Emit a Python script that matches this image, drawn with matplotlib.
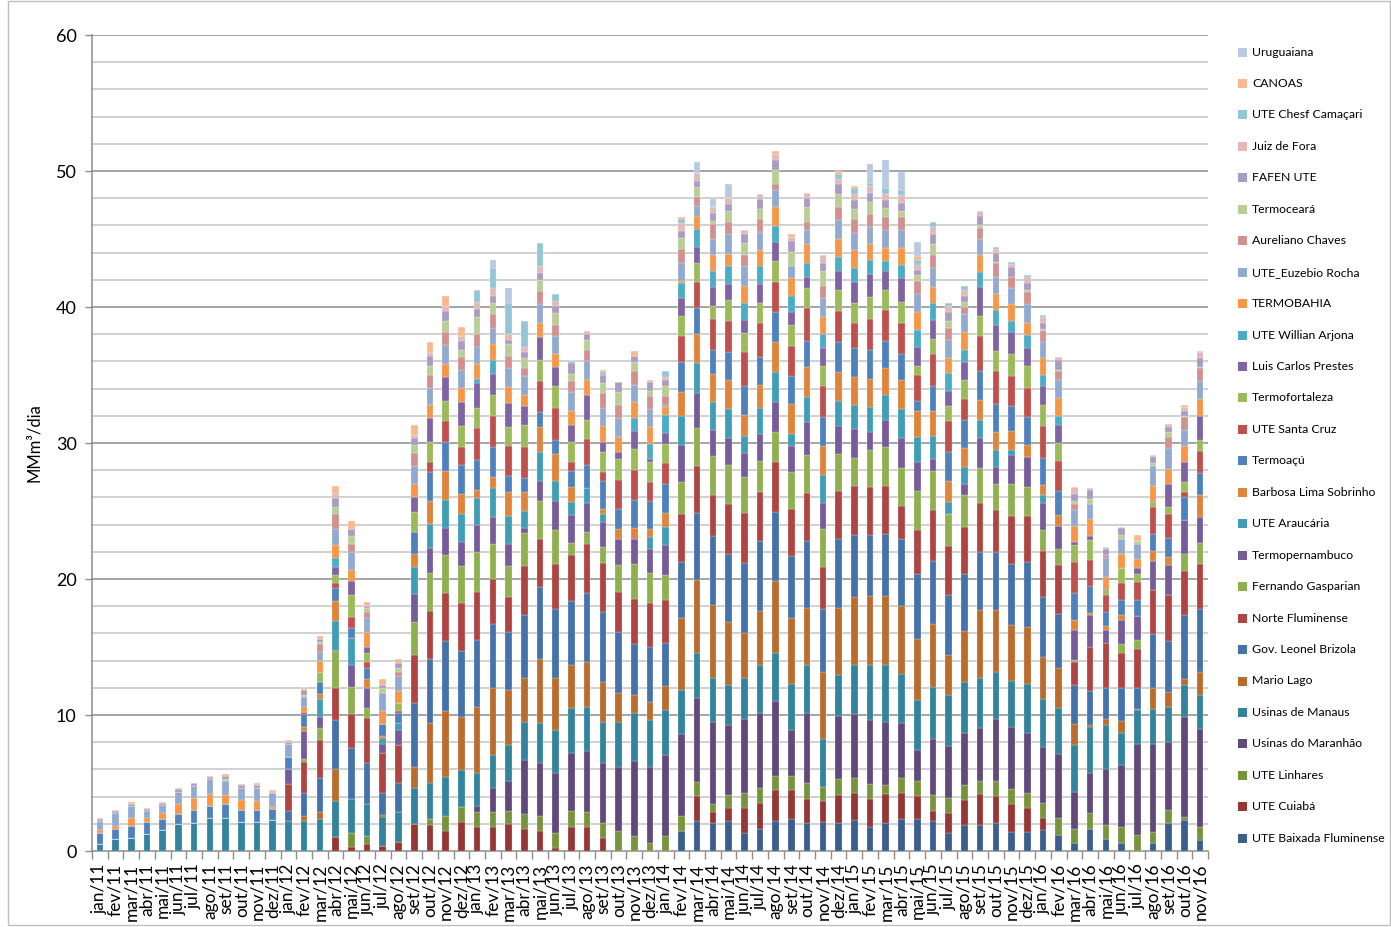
import matplotlib
matplotlib.use("Agg")
import matplotlib.pyplot as plt
import numpy as np
from matplotlib.patches import Rectangle
from matplotlib.ticker import FixedLocator

plt.rcParams['font.family'] = ['Lato', 'DejaVu Sans']

months = ['jan/11','fev/11','mar/11','abr/11','mai/11','jun/11','jul/11','ago/11','set/11','out/11','nov/11','dez/11',
          'jan/12','fev/12','mar/12','abr/12','mai/12','jun/12','jul/12','ago/12','set/12','out/12','nov/12','dez/12',
          'jan/13','fev/13','mar/13','abr/13','mai/13','jun/13','jul/13','ago/13','set/13','out/13','nov/13','dez/13',
          'jan/14','fev/14','mar/14','abr/14','mai/14','jun/14','jul/14','ago/14','set/14','out/14','nov/14','dez/14',
          'jan/15','fev/15','mar/15','abr/15','mai/15','jun/15','jul/15','ago/15','set/15','out/15','nov/15','dez/15',
          'jan/16','fev/16','mar/16','abr/16','mai/16','jun/16','jul/16','ago/16','set/16','out/16','nov/16']

# stacking order: bottom -> top
baixada = [0,0,0,0,0,0,0,0,0,0,0,0,
           0,0,0,0,0,0,0,0,0,0,0,0,
           0,0,0,0,0,0,0,0,0,0,0,0,
           0,1.49,2.2,2.03,2.23,1.3,1.59,2.23,2.33,2.03,2.15,2.03,
           2.28,1.79,2.03,2.33,2.33,2.23,1.35,1.91,1.91,2.03,1.42,1.42,
           1.54,1.17,0.56,1.59,0.86,0.56,0,0.56,2.03,2.28,0.81]
cuiaba = [0,0,0,0,0,0,0,0,0,0,0,0,
          0,0,0,1.05,0.32,0.49,0.37,0.66,2.0,1.9,1.49,2.15,
          1.79,1.79,1.96,1.59,1.49,0.2,1.79,1.79,0.98,0,0,0,
          0,0,1.81,0.86,0.9,1.88,1.96,2.25,2.15,1.79,1.52,2.08,
          2.0,2.03,2.13,1.95,1.71,0.71,1.42,1.83,2.25,2.01,2.01,1.71,
          0.86,0,0,0,0,0,0,0,0,0,0]
linhares = [0,0,0,0,0,0,0,0,0,0,0,0,
            0,0,0,0,0.98,0.61,0,0,0,0.42,1.08,1.05,
            1.1,1.1,1.0,1.13,1.08,1.1,1.17,1.1,1.05,1.49,1.1,0.56,
            1.1,1.08,1.1,0.56,0.98,1.05,1.05,1.03,1.05,1.2,1.05,1.15,
            1.06,1.1,0.69,1.06,1.1,1.17,1.1,1.11,0.98,1.1,1.1,1.1,
            1.1,1.23,1.03,1.18,1.05,1.23,1.17,0.86,0.98,0.24,0.98]
maranhao = [0,0,0,0,0,0,0,0,0,0,0,0,
            0,0,0,0,0,0,0,0,0,0,0,0,
            0.42,1.71,2.2,3.96,3.87,4.45,4.21,4.48,4.41,4.7,5.51,5.63,
            5.95,6.0,6.14,6.05,5.19,5.51,5.56,5.53,3.35,5.14,0,4.68,
            4.77,4.7,4.65,4.08,2.32,4.11,3.86,3.84,3.94,4.53,4.6,4.48,
            4.16,4.72,2.77,2.98,4.09,4.52,6.73,6.48,5.02,7.34,7.21]
manaus = [0.49,0.9,0.98,1.27,1.52,1.96,2.08,2.45,2.45,2.15,2.15,2.25,
          2.2,2.2,2.37,2.62,2.5,2.37,2.13,2.2,2.64,2.69,2.89,2.79,
          2.4,2.45,2.67,2.81,2.98,3.13,3.35,3.23,3.06,3.31,3.55,3.43,
          3.3,3.3,3.28,3.23,2.94,2.99,3.55,3.52,3.43,3.5,3.55,2.98,
          3.55,4.09,4.21,3.62,3.63,3.85,3.72,3.74,3.67,3.5,3.38,3.6,
          3.48,3.4,3.42,3.38,3.3,2.38,2.45,2.57,2.57,2.33,2.45]
mario_lago = [0,0,0,0,0,0,0,0,0,0,0,0,
              0,0.37,0.51,2.33,0,0,0.15,0,1.52,4.4,4.82,3.87,
              4.9,4.94,3.99,3.26,4.73,3.87,3.14,3.3,2.93,2.15,1.29,1.34,
              1.76,5.29,5.39,5.38,4.6,3.32,3.91,5.26,4.85,4.21,4.9,4.95,
              5.01,5.04,5.04,4.95,4.52,4.65,2.94,3.75,4.94,4.57,4.08,4.16,
              3.13,2.94,1.54,0.12,0.37,0.85,0.1,1.55,1.1,0.49,1.72]
brizola = [0,0,0,0,0,0,0,0,0,0,0,0,
           0.73,1.66,2.5,3.6,3.74,3.0,1.59,2.15,4.7,4.72,5.14,4.82,
           4.94,4.72,4.28,4.63,5.26,5.07,4.7,5.07,5.14,4.45,3.8,4.04,
           3.19,4.08,4.92,5.04,5.01,5.14,5.14,5.14,4.5,4.91,4.6,5.04,
           4.6,4.5,4.57,4.92,4.73,4.6,4.45,4.21,4.29,4.24,4.53,4.77,
           4.4,3.99,2.87,2.52,2.35,2.48,1.57,3.96,3.72,4.65,4.65]
norte_flu = [0,0,0,0,0,0,0,0,0,0,0,0,
             2.03,2.3,2.77,2.4,2.55,3.3,2.99,2.81,3.55,3.5,3.55,3.55,
             3.5,3.3,2.57,3.55,3.55,3.3,3.37,3.62,3.6,2.94,3.3,3.23,
             3.18,3.55,3.47,2.99,3.68,3.65,3.62,3.63,3.5,3.55,3.11,3.55,
             3.6,3.5,3.55,2.49,3.28,3.77,3.55,3.47,3.6,3.06,3.5,3.38,
             3.38,3.55,1.71,3.23,3.28,2.54,2.86,3.23,3.38,3.23,3.3]
gasparian = [0,0,0,0,0,0,0,0,0,0,0,0,
             0,0.25,0.86,2.7,1.96,0.73,0,0,2.45,2.8,2.76,2.7,
             2.94,2.57,2.26,2.47,2.76,2.45,0.91,0.86,1.17,1.96,2.57,2.23,
             1.78,2.33,2.82,2.93,2.88,2.64,2.33,2.2,2.69,2.82,2.81,2.74,
             2.03,2.74,2.87,2.77,2.84,2.83,2.4,2.28,2.59,1.95,2.37,2.18,
             1.52,1.22,0.12,0,0,0.69,0.66,0,0,1.29,1.52]
termopernambuco = [0,0,0,0,0,0,0,0,0,0,0,0,
                   1.08,2.03,0.86,0.1,1.66,1.47,0.61,1.05,2.03,1.83,2.03,1.78,
                   2.0,2.01,1.66,0.37,1.45,2.2,2.03,2.12,1.84,1.96,1.84,1.76,
                   2.26,2.76,2.57,1.89,1.96,1.77,1.96,2.21,1.91,2.37,1.89,2.03,
                   2.16,1.35,1.96,2.2,2.13,0.91,0,0.85,2.18,1.28,2.16,2.15,
                   2.03,1.67,2.25,2.38,0.97,1.71,1.71,2.08,2.2,2.5,1.91]
araucaria = [0,0,0,0,0,0,0,0,0,0,0,0,
             0,0,1.32,2.13,1.96,0,0.49,0.54,1.96,1.79,2.06,2.08,
             1.96,2.1,2.03,1.22,2.15,1.47,0.98,1.13,0.61,0,0,0.86,
             1.29,2.13,2.15,2.03,2.13,1.29,1.9,2.2,0.91,1.87,2.1,1.88,
             1.73,1.83,1.83,2.13,1.83,1.71,0.86,1.28,1.37,1.22,0.34,0,
             0.54,0,0,0,0,0,0,0,0,0,0]
barbosa = [0,0,0,0,0,0,0,0,0,0,0,0,
           0,0.32,0.39,1.42,0,0.69,0.12,0,1.0,1.71,2.15,1.47,
           0.61,0.83,1.76,1.39,1.88,1.96,1.1,0,0.37,0.73,0.8,0.61,
           1.06,1.76,2.13,2.08,2.13,1.52,1.72,2.2,2.2,2.17,2.13,2.13,
           2.04,2.03,1.96,2.13,1.96,1.84,1.59,1.34,1.47,1.3,1.37,0.93,
           0.78,0.78,0.69,0.12,0.25,0.37,0,0.76,0.61,0,1.59]
termoacu = [0.81,0.73,0.86,0.88,0.86,0.73,0.93,0.86,1.03,0.86,0.86,0.86,
            0.9,0.95,0.83,0.98,0.73,0.83,0.9,0.73,1.6,2.08,2.13,2.13,
            2.21,2.16,1.18,1.05,1.06,1.02,1.22,1.71,2.08,1.47,2.06,2.08,
            2.08,2.16,1.95,1.79,2.03,2.15,2.0,2.25,2.03,1.91,2.08,2.16,
            2.15,2.14,2.03,1.91,0.73,1.83,2.08,2.08,2.13,2.08,1.89,2.06,
            1.98,1.83,2.01,1.98,1.05,1.15,1.18,1.27,1.42,1.67,1.64]
santa_cruz = [0,0,0,0,0,0,0,0,0,0,0,0,
              0,0.12,0,0.4,0.78,0.44,0,0.12,0,0.74,1.5,1.3,
              2.32,2.31,2.2,2.25,2.32,2.33,0.62,1.89,0.61,2.15,2.23,1.35,
              1.56,1.91,1.91,2.25,2.33,2.45,2.5,2.22,2.25,2.42,2.28,2.32,
              1.81,2.27,2.25,2.32,1.91,2.33,2.28,1.54,2.52,2.4,2.15,2.1,
              2.38,2.21,2.27,1.93,1.23,1.25,1.34,1.96,1.76,0.36,1.66]
termofortaleza = [0,0,0,0,0,0,0,0,0,0,0,0,
                  0,0,0.73,0.56,1.62,0.66,0,0.61,1.5,1.51,1.5,1.59,
                  1.49,1.55,1.44,1.64,1.52,1.66,1.51,1.42,1.52,1.52,1.51,1.47,
                  1.42,1.51,1.4,0.98,1.54,1.4,1.49,1.52,1.54,1.49,1.51,1.52,
                  1.54,1.64,1.47,1.52,0.66,1.1,1.15,1.4,1.51,1.52,1.64,1.64,
                  1.54,1.27,1.28,1.47,0.36,1.1,0.62,0.37,0.49,0.74,0.78]
luis_carlos = [0,0,0,0,0,0,0,0,0,0,0,0,
               0,0,0,0.62,1.02,0.44,0,0,1.05,1.72,1.73,1.71,
               1.84,1.57,1.72,1.37,1.71,1.4,1.23,1.81,0.73,0.54,1.3,0.24,
               0.78,1.28,1.15,1.39,1.15,0.98,1.4,1.42,0.96,0.84,1.3,1.42,
               1.52,1.66,1.42,1.72,1.4,1.4,1.1,1.3,2.13,1.9,1.59,1.3,
               1.35,1.37,0.19,0.25,0.13,0,0.44,0.12,1.71,1.47,1.79]
willian = [0,0,0,0,0,0,0,0,0,0,0,0,
           0,0,0,0.66,0,0,0,0,0,0,0,0,
           0.29,0.98,0,0,0,0,0,0,0,0,0.98,1.1,
           1.35,1.12,1.35,1.18,1.3,1.24,1.3,1.15,1.17,1.05,1.03,1.03,
           1.0,1.03,0.73,0.97,1.25,1.24,1.27,0.93,1.06,1.08,0.86,0.98,
           0.85,0.66,0,0,0,0,0,0,0,0,0]
termobahia = [0.22,0.2,0.56,0.24,0.44,0.78,0.86,0.9,0.61,0.73,0.66,0.15,
              0,0.39,0.81,0.93,0.86,1.1,0.98,0.9,1.0,0.97,0.97,1.05,
              1.1,1.17,1.17,0.83,0.98,0.93,1.05,1.1,1.18,1.05,1.15,1.23,
              0.61,0.17,0.93,1.17,0.95,1.28,1.22,1.42,1.28,1.34,1.22,1.29,
              1.32,1.22,0.98,1.3,1.32,1.2,1.13,1.27,1.29,1.17,1.22,0.9,
              1.23,1.3,1.18,1.29,0.85,1.03,0.61,1.1,1.11,1.22,1.22]
euzebio = [0.69,0.93,0.9,0.54,0.56,0.86,0.9,1.05,1.05,0.9,0.98,0.98,
           0.9,0.73,0.66,1.2,1.3,1.03,1.3,1.1,1.3,1.25,1.4,1.33,
           1.28,1.18,1.42,1.37,1.42,1.3,1.39,1.37,1.27,1.42,1.3,1.34,
           0.15,1.35,0.73,1.15,1.42,1.47,1.32,1.2,0.93,1.03,1.4,1.4,
           1.3,1.23,1.27,1.27,1.29,1.37,1.32,1.35,1.2,1.28,1.22,1.35,
           1.15,1.32,1.2,1.11,1.42,1.1,1.15,1.42,1.51,1.15,1.35]
aureliano = [0,0,0,0,0,0,0,0,0,0,0,0,
             0,0,0.64,1.07,0.61,0.39,0,0.32,1.0,0.98,0.93,0.92,
             0.93,1.03,0.91,0.66,0.98,0.85,0.81,0.86,1.1,0.95,0.98,0.98,
             0.66,0.98,0.66,1.1,0.93,0.8,0.98,0.49,0,0.64,0.93,0.98,
             0.98,0.93,0.98,0.98,0.98,0.98,0.88,0.53,0.81,0.98,0.79,0.86,
             0.85,0.64,0.44,0,0.17,0,0,0,0.81,0.93,0.93]
termoceara = [0,0,0,0,0,0,0,0,0.17,0,0,0,
              0,0.17,0.1,0.54,0.54,0.29,0.37,0.29,0.55,0.64,0.81,0.57,
              1.22,0.85,0.85,0.69,0.8,0.86,0.49,0.73,0.76,0.98,0.66,0.37,
              0.73,0.85,0.76,0.25,0.78,0.91,0.68,1.0,1.05,1.08,1.1,0.98,
              0.73,0.9,0.64,0.44,0.44,0.78,0.54,0.37,0.2,0.12,0,0.17,
              0.13,0.1,0.2,0.36,0,0.31,0.24,0.25,0.37,0.12,0.1]
fafen = [0.17,0.17,0.17,0.17,0.17,0.2,0.2,0.2,0.2,0.2,0.2,0.12,
         0.17,0.32,0.24,0.66,0.56,0.2,0.24,0.32,0.55,0.76,0.73,0.66,
         0.61,0.49,0.3,0.42,0.5,0.54,0.78,0.42,0.61,0.69,0.49,0.61,
         0.42,0.5,0.42,0.61,0.54,0.61,0.74,0.71,0.78,0.68,0.61,0.68,
         0.67,0.69,0.59,0.61,0.35,0.74,0.61,0.44,0.66,0.68,0.73,0.56,
         0.41,0.73,0.53,0.66,0.49,0.49,0,0.41,0.41,0.32,0.64]
juiz_de_fora = [0,0,0,0,0,0,0,0,0,0,0,0,
                0,0,0,0.32,0,0,0,0,0.2,0.24,0.42,0.36,
                0.49,0.61,0.44,0.37,0.5,0.32,0,0.24,0,0,0,0,
                0.2,0.61,0.61,0.42,0.44,0.29,0.42,0.45,0.3,0.37,0.56,0.37,
                0.44,0.49,0.49,0.57,0.36,0.54,0.49,0.42,0.36,0.25,0.2,0.42,
                0.44,0.19,0.49,0.15,0.13,0.1,0,0.15,0.2,0.29,0.41]
chesf = [0,0,0,0,0,0,0,0,0,0,0,0,
         0,0,0,0,0,0,0,0,0,0,0,0,
         0.91,1.47,2.25,1.96,1.7,0.53,0.2,0,0.17,0,0,0,
         0.44,0.24,0,0,0,0,0,0,0,0,0,0.36,
         0.44,0.24,0.44,0.34,0.37,0.39,0.24,0.32,0,0.19,0.17,0.14,
         0.2,0,0,0,0,0,0,0,0,0,0]
canoas = [0.07,0.1,0.12,0.06,0.07,0.12,0,0.07,0.12,0.12,0.12,0.1,
          0.12,0.2,0.2,0.54,0.54,0.29,0.44,0.32,0.7,0.74,0.73,0.62,
          0,0,0,0,0,0,0,0,0.18,0,0.36,0.17,
          0,0.17,0,0,0,0,0,0.24,0.2,0,0,0.25,
          0.17,0,0,0,0.32,0,0,0,0,0,0,0,
          0,0,0,0,0,0,0.37,0,0,0.2,0.12]
uruguaiana = [0,0,0,0,0,0,0,0,0,0,0,0,
              0,0,0,0,0,0,0,0,0,0,0,0,
              0,0.6,1.17,0,0,0,0,0,0,0,0,0,
              0,0,0.8,0.56,0.98,0,0,0,0,0,0,0,
              0,1.35,2.0,1.37,1.05,0,0,0,0,0,0,0,
              0,0,0,0,0,0,0,0,0,0,0]

series_names = ['UTE Baixada Fluminense', 'UTE Cuiabá', 'UTE Linhares', 'Usinas do Maranhão',
                'Usinas de Manaus', 'Mario Lago', 'Gov. Leonel Brizola', 'Norte Fluminense',
                'Fernando Gasparian', 'Termopernambuco', 'UTE Araucária', 'Barbosa Lima Sobrinho',
                'Termoaçú', 'UTE Santa Cruz', 'Termofortaleza', 'Luis Carlos Prestes',
                'UTE Willian Arjona', 'TERMOBAHIA', 'UTE_Euzebio Rocha', 'Aureliano Chaves',
                'Termoceará', 'FAFEN UTE', 'Juiz de Fora', 'UTE Chesf Camaçari', 'CANOAS', 'Uruguaiana']
series_values = [baixada, cuiaba, linhares, maranhao, manaus, mario_lago, brizola, norte_flu,
                 gasparian, termopernambuco, araucaria, barbosa, termoacu, santa_cruz,
                 termofortaleza, luis_carlos, willian, termobahia, euzebio, aureliano,
                 termoceara, fafen, juiz_de_fora, chesf, canoas, uruguaiana]
colors = ['#3B5E8C', '#953735', '#77933C', '#5F4A7B', '#31849B', '#B96C2C',
          '#4672AA', '#AF4542', '#8FB04E', '#765D99', '#3F9DB5', '#E0843A',
          '#4F81BD', '#C0504D', '#9BBB59', '#8064A2', '#4BACC6', '#F79646',
          '#93AAD0', '#D09190', '#B9CE95', '#AA9CC2', '#E3B9B8', '#93C6D6',
          '#F9B88E', '#B9C8E3']

W, H = 1391, 927
fig = plt.figure(figsize=(W / 100, H / 100), dpi=100)
ax = fig.add_axes([92 / W, 1 - 851 / H, (1208 - 92) / W, (851 - 35) / H])

x = np.arange(len(months))
bottom = np.zeros(len(months))
for vals, col in zip(series_values, colors):
    v = np.array(vals, dtype=float)
    ax.bar(x, v, 0.42, bottom=bottom, color=col, edgecolor=(1, 1, 1, 0.55),
           linewidth=0.3, zorder=3)
    bottom += v

ax.set_xlim(-0.5, len(months) - 0.5)
ax.set_ylim(0, 60)

# grid
for yv in range(2, 61, 2):
    major = (yv % 10 == 0)
    ax.axhline(yv, color='#8C8C8C' if major else '#C4C4C4', lw=1.1, zorder=1)

ax.set_yticks(range(0, 61, 10))
ax.tick_params(axis='y', which='major', length=5, width=1, color='#8C8C8C',
               labelsize=13, pad=6)
ax.set_ylabel('MMm³/dia', fontsize=12, labelpad=10)

ax.set_xticks(x)
ax.set_xticklabels(months, rotation=90, fontsize=12.5)
ax.xaxis.set_minor_locator(FixedLocator(np.arange(-0.5, len(months), 1.0)))
ax.tick_params(axis='x', which='major', length=0, pad=9)
ax.tick_params(axis='x', which='minor', length=6, width=1, color='#8C8C8C')

for s in ['top', 'right']:
    ax.spines[s].set_visible(False)
for s in ['left', 'bottom']:
    ax.spines[s].set_color('#8C8C8C')
    ax.spines[s].set_linewidth(1.1)

# legend (manual, top = last series)
for k, (name, col) in enumerate(zip(series_names[::-1], colors[::-1])):
    yc = 52 + k * 31.45
    fig.patches.append(Rectangle((1238 / W, 1 - (yc + 4.5) / H), 9 / W, 9 / H,
                                 transform=fig.transFigure, facecolor=col,
                                 edgecolor='none'))
    fig.text(1252 / W, 1 - yc / H, name, fontsize=8.8, va='center', ha='left')

# chart area border
fig.patches.append(Rectangle((8 / W, 2 / H), (W - 9) / W, (H - 3) / H,
                             transform=fig.transFigure, facecolor='none',
                             edgecolor='#BFBFBF', lw=1))

fig.savefig('out.png', dpi=100)
